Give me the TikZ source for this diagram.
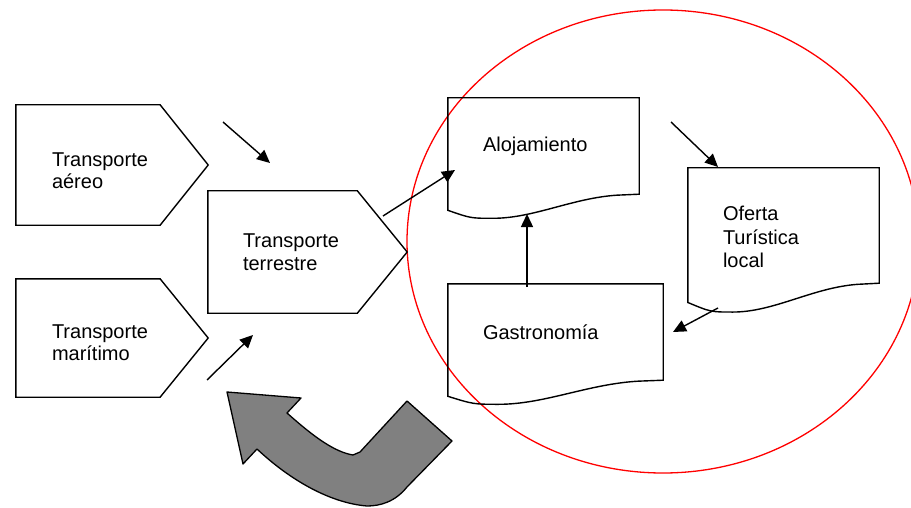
\documentclass[tikz,border=0pt]{standalone}
\usepackage{fontspec}
\setmainfont{Liberation Sans}
\usetikzlibrary{arrows.meta,calc}

\tikzset{
	flecha/.style={-{Triangle[length=13pt,width=12pt]}, line width=1.4pt},
	senal/.style={rectangle, align=left, text width=120pt, inner sep=0pt, font=\fontsize{20}{22.5}\selectfont},
	docu/.style={rectangle, align=left, inner sep=0pt, font=\fontsize{20}{23.5}\selectfont}
}

% contorno de pentagono (caja del nodo completa)
\newcommand{\pentagono}[1]{%
	\begin{scope}[shift={(#1.north west)}, x={($(#1.north east)-(#1.north west)$)}, y={($(#1.south west)-(#1.north west)$)}]
		\draw[line width=1.4pt, line join=miter] (0,0) -- (0.75,0) -- (1,0.5) -- (0.75,1) -- (0,1) -- cycle;
	\end{scope}}

% contorno de documento (parte recta = nodo, onda debajo)
\newcommand{\documento}[1]{%
	\begin{scope}[shift={(#1.north west)}, x={($(#1.north east)-(#1.north west)$)}, y={($(#1.south west)-(#1.north west)$)}]
		\draw[line width=1.4pt] (0,0) -- (1,0) -- (1,1) -- (0.885,1.01)
			.. controls (0.65,1.04) and (0.45,1.25) .. (0.236,1.25)
			.. controls (0.12,1.25) .. (0,1.167) -- cycle;
	\end{scope}}

\begin{document}
\begin{tikzpicture}[x=1pt, y=-1pt]
		\useasboundingbox (0,0) rectangle (911,508);
		
		%zona local
		\draw[red, line width=1.3pt] (663,241.5) ellipse [x radius=256pt, y radius=231.5pt];
		
		%transportes
		\node[senal, minimum width=192pt, minimum height=120pt] (aereo) at (112,165) {\rule{0pt}{25pt}Transporte\\aéreo};
		\node[senal, minimum width=192pt, minimum height=118pt] (maritimo) at (112,338) {\rule{0pt}{23pt}Transporte\\marítimo};
		\node[senal, minimum width=199pt, minimum height=122pt, text width=129pt] (terrestre) at (307.5,252) {Transporte\\terrestre};
		\foreach \p in {aereo, maritimo, terrestre}{
			\pentagono{\p}
		}
		
		%documentos
		\node[docu, minimum width=191pt, minimum height=96pt, text width=121pt] (aloj) at (543.5,146) {Alojamiento};
		\node[docu, minimum width=215pt, minimum height=96pt, text width=145pt] (gastro) at (555.5,332) {Gastronomía};
		\node[docu, minimum width=191pt, minimum height=115pt, text width=121pt] (oferta) at (783.5,225.5) {\rule{0pt}{38pt}Oferta\\Turística\\local};
		\foreach \d in {aloj, gastro, oferta}{
			\documento{\d}
		}
		
		%flechas
		\coordinate (a1) at (223,122);
		\coordinate (a2) at (270,163);
		\coordinate (m1) at (207,380);
		\coordinate (m2) at (253,335);
		\coordinate (t1) at (383,216);
		\coordinate (t2) at (455,170);
		\coordinate (g1) at (527,287);
		\coordinate (g2) at (527,214);
		\coordinate (l1) at (671,122);
		\coordinate (l2) at (718,167);
		\coordinate (o1) at (718,308);
		\coordinate (o2) at (673,332);
		\foreach \a/\b in {a1/a2, m1/m2, t1/t2, g1/g2, l1/l2, o1/o2}{
			\draw[flecha] (\a) -- (\b);
		}
		
		%flecha curva
		\draw[fill=gray, line width=1.3pt, line join=round] (227,392) -- (301,398) -- (287,413)
			.. controls (315,438) and (335,452) .. (353,455) -- (360,452) -- (407,401) -- (452,441) -- (407,487)
			.. controls (395,502) and (380,506) .. (367,506)
			.. controls (330,503) and (290,480) .. (257,449) -- (243,464) -- cycle;
\end{tikzpicture}
\end{document}
